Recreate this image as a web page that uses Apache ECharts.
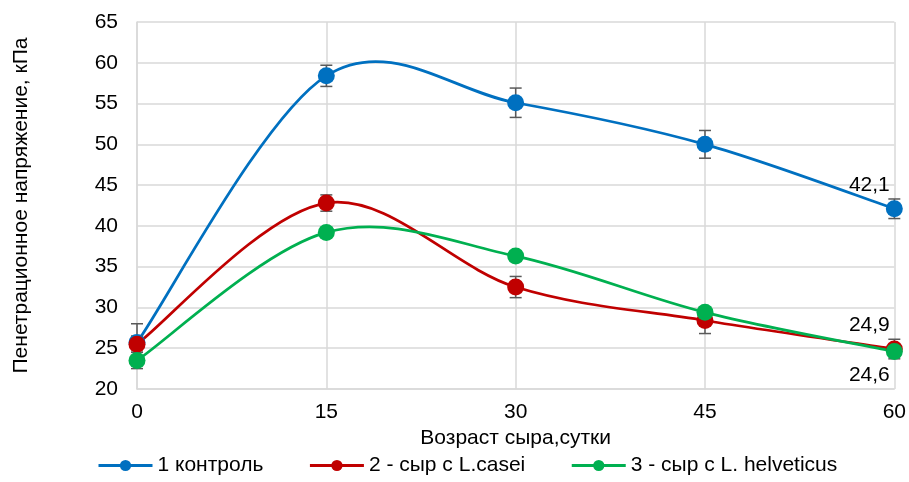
<!DOCTYPE html>
<html>
<head>
<meta charset="utf-8">
<script src="https://cdn.jsdelivr.net/npm/echarts@6/dist/echarts.min.js"></script>
<style>
html,body{margin:0;padding:0;background:#fff;}
#chart{width:909px;height:482px;}
</style>
</head>
<body>
<div id="chart"></div>
<script>
const days = [0, 15, 30, 45, 60];
const seriesNames = ['1 контроль', '2 - сыр с L.casei', '3 - сыр с L. helveticus'];
const control = [25.7, 58.4, 55.1, 50.0, 42.1];
const casei = [25.5, 42.8, 32.5, 28.4, 24.9];
const helveticus = [23.5, 39.2, 36.3, 29.4, 24.6];
const controlErr = [2.3, 1.3, 1.8, 1.7, 1.2];
const caseiErr = [1.0, 1.0, 1.3, 1.6, 1.2];
const helveticusErr = [1.0, 0.6, 0.6, 0.6, 0.6];
const lastLabels = ['42,1', '24,9', '24,6'];
const yTicks = [20, 25, 30, 35, 40, 45, 50, 55, 60, 65];

const colors = ['#0070C0', '#C00000', '#00B050'];
const values = [control, casei, helveticus];
const errors = [controlErr, caseiErr, helveticusErr];
const labelPos = ['top', 'top', 'bottom'];
const FONT = 'Liberation Sans, Arial, sans-serif';
const FS = 21;

const chart = echarts.init(document.getElementById('chart'));

// Markers + legend entries (line itself drawn by the smooth curve series)
const markerSeries = values.map((vals, si) => ({
  name: seriesNames[si],
  type: 'line',
  symbol: 'circle',
  symbolSize: 17,
  z: 4,
  itemStyle: { color: colors[si] },
  lineStyle: { color: colors[si], width: 3, opacity: 0 },
  data: vals.map((v, i) => {
    const item = { value: [days[i], v] };
    if (i === vals.length - 1) {
      item.label = {
        show: true,
        position: labelPos[si],
        offset: [-25, 0],
        formatter: lastLabels[si],
        color: '#000',
        fontSize: FS,
        fontFamily: FONT
      };
    }
    return item;
  })
}));

// Smooth curves (Catmull-Rom style bezier through the data points, like Excel)
const curveSeries = values.map((vals, si) => {
  const n = vals.length;
  const segs = [];
  for (let i = 0; i < n - 1; i++) {
    const a = Math.max(i - 1, 0), d = Math.min(i + 2, n - 1);
    segs.push([days[a], vals[a], days[i], vals[i], days[i + 1], vals[i + 1], days[d], vals[d]]);
  }
  return {
    type: 'custom',
    z: 2,
    silent: true,
    data: segs,
    renderItem: function (params, api) {
      const p0 = api.coord([api.value(0), api.value(1)]);
      const p1 = api.coord([api.value(2), api.value(3)]);
      const p2 = api.coord([api.value(4), api.value(5)]);
      const p3 = api.coord([api.value(6), api.value(7)]);
      const k = 1 / 6;
      return {
        type: 'bezierCurve',
        shape: {
          x1: p1[0], y1: p1[1], x2: p2[0], y2: p2[1],
          cpx1: p1[0] + (p2[0] - p0[0]) * k, cpy1: p1[1] + (p2[1] - p0[1]) * k,
          cpx2: p2[0] - (p3[0] - p1[0]) * k, cpy2: p2[1] - (p3[1] - p1[1]) * k
        },
        style: { stroke: colors[si], lineWidth: 2.75, fill: null }
      };
    }
  };
});

const errSeries = values.map((vals, si) => ({
  type: 'custom',
  z: 3,
  silent: true,
  data: vals.map((v, i) => [days[i], v - errors[si][i], v + errors[si][i]]),
  renderItem: function (params, api) {
    const x = api.value(0);
    const lo = api.coord([x, api.value(1)]);
    const hi = api.coord([x, api.value(2)]);
    const hw = 6;
    const style = { stroke: '#595959', lineWidth: 1.5 };
    return {
      type: 'group',
      children: [
        { type: 'line', shape: { x1: lo[0], y1: lo[1], x2: hi[0], y2: hi[1] }, style },
        { type: 'line', shape: { x1: lo[0] - hw, y1: lo[1], x2: lo[0] + hw, y2: lo[1] }, style },
        { type: 'line', shape: { x1: hi[0] - hw, y1: hi[1], x2: hi[0] + hw, y2: hi[1] }, style }
      ]
    };
  }
}));

chart.setOption({
  animation: false,
  backgroundColor: '#fff',
  grid: { left: 137, right: 11, top: 22, bottom: 93, containLabel: false },
  legend: {
    bottom: 1,
    left: 92,
    itemWidth: 54,
    itemHeight: 14,
    itemGap: 45,
    data: seriesNames,
    lineStyle: { opacity: 1, width: 3 },
    textStyle: { color: '#000', fontSize: FS, fontFamily: FONT }
  },
  xAxis: {
    type: 'value',
    min: 0, max: 60, interval: 15,
    name: 'Возраст сыра,сутки',
    nameLocation: 'middle',
    nameGap: 36,
    nameTextStyle: { color: '#000', fontSize: FS, fontFamily: FONT },
    axisLine: { show: true, lineStyle: { color: '#d9d9d9', width: 1.5 } },
    axisTick: { show: false },
    axisLabel: { color: '#000', fontSize: FS, fontFamily: FONT, margin: 13 },
    splitLine: { show: true, lineStyle: { color: '#d9d9d9', width: 1.5 } }
  },
  yAxis: {
    type: 'value',
    min: yTicks[0], max: yTicks[yTicks.length - 1], interval: 5,
    name: 'Пенетрационное напряжение, кПа',
    nameLocation: 'middle',
    nameGap: 105,
    nameTextStyle: { color: '#000', fontSize: FS, fontFamily: FONT },
    axisLine: { show: true, lineStyle: { color: '#d9d9d9', width: 1.5 } },
    axisTick: { show: false },
    axisLabel: { color: '#000', fontSize: FS, fontFamily: FONT, margin: 19 },
    splitLine: { show: true, lineStyle: { color: '#d9d9d9', width: 1.5 } }
  },
  series: [...curveSeries, ...errSeries, ...markerSeries]
});
</script>
</body>
</html>
